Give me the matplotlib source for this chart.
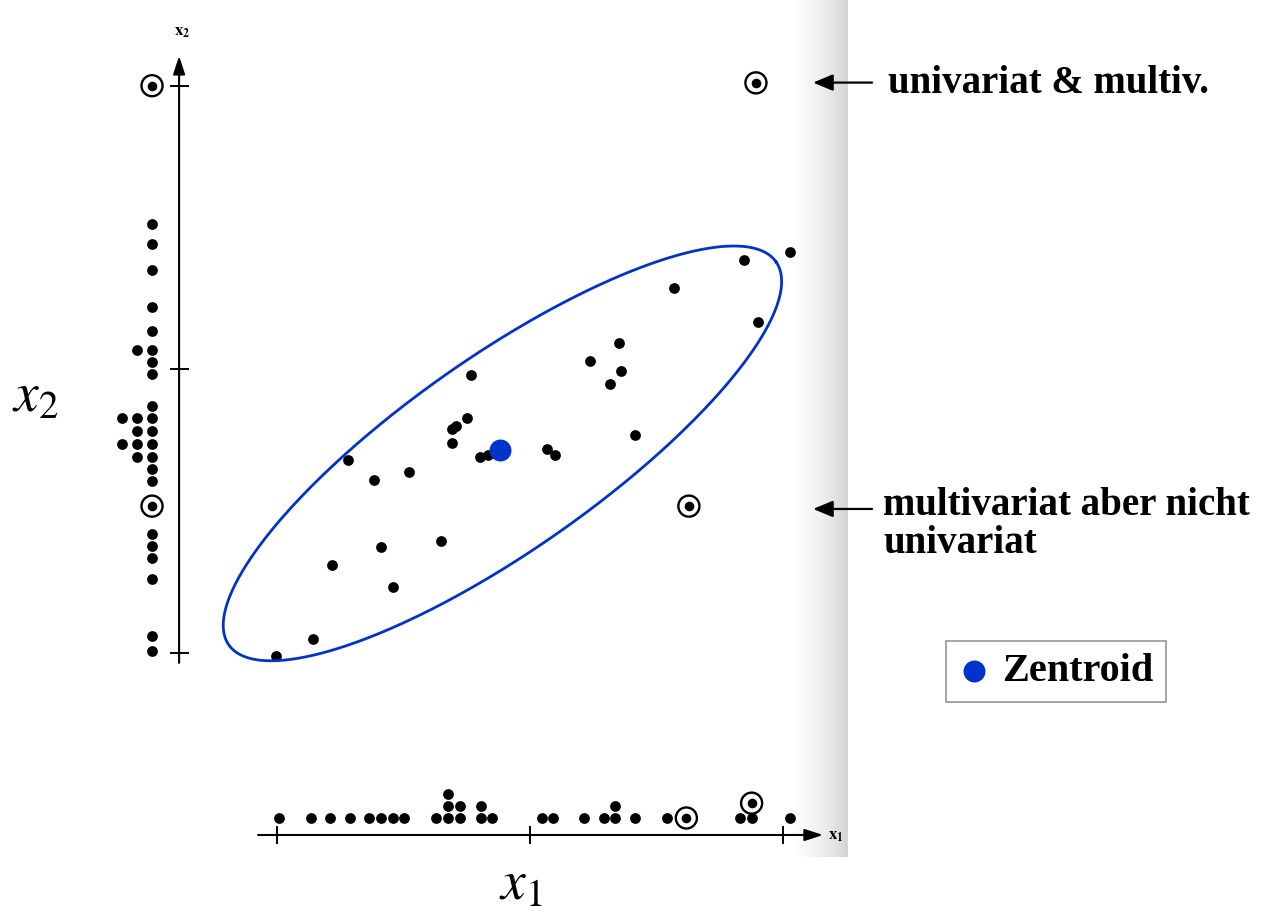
import matplotlib
matplotlib.use('Agg')
import matplotlib.pyplot as plt
import numpy as np
from collections import Counter

# ---------------- data (in x1 / x2 units, ticks at 0, 1, 2) ----------------
scatter_x1 = [-0.003, 0.144, 0.219, 0.281, 0.384, 0.413, 0.460, 0.522, 0.649,
              0.692, 0.692, 0.706, 0.749, 0.767, 0.803, 0.834, 1.067, 1.099,
              1.239, 1.315, 1.353, 1.360, 1.416, 1.570, 1.847, 1.900, 2.028]
scatter_x2 = [-0.012, 0.048, 0.309, 0.680, 0.609, 0.374, 0.232, 0.637, 0.394,
              0.741, 0.789, 0.800, 0.828, 0.980, 0.691, 0.697, 0.720, 0.698,
              1.029, 0.948, 1.092, 0.995, 0.769, 1.287, 1.386, 1.165, 1.412]
outlier_x1 = [1.628, 1.893]
outlier_x2 = [0.517, 2.010]
centroid_x1 = [0.883]
centroid_x2 = [0.715]

# ellipse: centre and two conjugate half-axis vectors
ellipse_center = (0.891, 0.703)
ellipse_u = (1.0814, 0.6757)
ellipse_v = (-0.2199, 0.2803)

# marginal dot plots (repeated values are stacked)
x1_margin = [0.009, 0.134, 0.209, 0.290, 0.365, 0.412, 0.459, 0.503, 0.628,
             0.676, 0.676, 0.676, 0.723, 0.723, 0.806, 0.806, 0.849, 1.046,
             1.092, 1.213, 1.292, 1.337, 1.337, 1.415, 1.540, 1.831, 1.876, 2.028]
x1_margin_outliers = [1.618, 1.876]
x2_margin = [1.511, 1.441, 1.350, 1.218, 1.135, 1.068, 1.068, 1.024, 0.982,
             0.871, 0.828, 0.828, 0.828, 0.782, 0.782, 0.736, 0.736, 0.736,
             0.690, 0.690, 0.648, 0.606, 0.419, 0.376, 0.334, 0.260, 0.059, 0.006]
x2_margin_outliers = [0.517, 2.000]
tick_values = [0, 1, 2]

label_top = "univariat & multiv."
label_mid = ["multivariat aber nicht", "univariat"]
legend_label = "Zentroid"

# ---------------- figure ----------------
W, H = 1274, 914
fig = plt.figure(figsize=(W / 100, H / 100), dpi=100)
ax = fig.add_axes([0, 0, 1, 1])
ax.set_axis_off()
XL = (-1.0949, 3.9407)
YL = (-0.9217, 2.3023)

plt.rcParams['mathtext.fontset'] = 'stix'
BLUE = '#0033cc'
serif = ['Liberation Serif', 'DejaVu Serif']

# gutter shadow of the scanned page
n = 200
ramp = np.linspace(0, 1, n)
rgba = np.zeros((1, n, 4))
rgba[..., :3] = 0.35
rgba[..., 3] = 0.26 * ramp ** 1.6
ax.imshow(rgba, extent=[2.02, 2.257, -0.7206, 2.3023], aspect='auto',
          interpolation='bilinear', zorder=0)


def stack_levels(values):
    seen = Counter()
    lv = []
    for v in values:
        lv.append(seen[v])
        seen[v] += 1
    return np.array(lv)


DOT_S = 60
IN_S = 48
RING_S = 230
RING_LW = 1.7


def ringed(x, y):
    ax.scatter(x, y, s=IN_S, color='black', lw=0, zorder=3)
    ax.scatter(x, y, s=RING_S, facecolors='none', edgecolors='black',
               linewidths=RING_LW, zorder=3)


# axes of the original figure
yaxis_x = -0.387
xaxis_y = -0.643
ax.annotate('', xy=(yaxis_x, 2.105), xytext=(yaxis_x, -0.036),
            arrowprops=dict(arrowstyle='-|>,head_length=0.55,head_width=0.18',
                            mutation_scale=20, lw=1.5, color='black',
                            shrinkA=0, shrinkB=0), zorder=2)
ax.annotate('', xy=(2.158, xaxis_y), xytext=(-0.075, xaxis_y),
            arrowprops=dict(arrowstyle='-|>,head_length=0.55,head_width=0.18',
                            mutation_scale=20, lw=1.5, color='black',
                            shrinkA=0, shrinkB=0), zorder=2)
tx = 8.5 / 253
ty = 8.0 / 283.5
for t in tick_values:
    ax.plot([t, t], [xaxis_y - ty, xaxis_y + ty], color='black', lw=1.4, zorder=2)
    ax.plot([yaxis_x - tx, yaxis_x + tx], [t, t], color='black', lw=1.4, zorder=2)
ax.text(yaxis_x + 0.012, 2.16, r'$\mathbf{x_2}$', fontsize=12, ha='center',
        va='bottom')
ax.text(2.21, xaxis_y, r'$\mathbf{x_1}$', fontsize=12, ha='center', va='center')

# main scatter
ax.scatter(scatter_x1, scatter_x2, s=DOT_S, color='black', lw=0, zorder=3)
ringed(outlier_x1, outlier_x2)

# bottom marginal (x1)
base_y, step_y = -0.583, 0.0423
vals = list(x1_margin) + list(x1_margin_outliers)
lv = stack_levels(vals)
flags = np.array([False] * len(x1_margin) + [True] * len(x1_margin_outliers))
yy = base_y + lv * step_y
yy[flags & (lv > 0)] += 0.01
va_ = np.array(vals)
ax.scatter(va_[~flags], yy[~flags], s=DOT_S, color='black', lw=0, zorder=3)
ringed(va_[flags], yy[flags])

# left marginal (x2)
base_x, step_x = -0.494, 0.0585
vals2 = list(x2_margin) + list(x2_margin_outliers)
lv2 = stack_levels(vals2)
flags2 = np.array([False] * len(x2_margin) + [True] * len(x2_margin_outliers))
xx = base_x - lv2 * step_x
vb_ = np.array(vals2)
ax.scatter(xx[~flags2], vb_[~flags2], s=DOT_S, color='black', lw=0, zorder=3)
ringed(xx[flags2], vb_[flags2])

# ellipse
t = np.linspace(0, 2 * np.pi, 500)
ex = ellipse_center[0] + np.cos(t) * ellipse_u[0] + np.sin(t) * ellipse_v[0]
ey = ellipse_center[1] + np.cos(t) * ellipse_u[1] + np.sin(t) * ellipse_v[1]
ax.plot(ex, ey, color=BLUE, lw=2.0, zorder=4)

# centroid
ax.scatter(centroid_x1, centroid_x2, s=250, color=BLUE, lw=0, zorder=5,
           label=legend_label)

# annotations
arrow_kw = dict(arrowstyle='-|>,head_length=0.6,head_width=0.25',
                mutation_scale=20, lw=1.6, color='black', shrinkA=0, shrinkB=0)
ax.annotate('', xy=(2.119, 2.011), xytext=(2.352, 2.011), arrowprops=arrow_kw)
ax.annotate('', xy=(2.119, 0.507), xytext=(2.352, 0.507), arrowprops=arrow_kw)
ax.text(2.415, 1.975, label_top, fontsize=28, fontweight='bold',
        family=serif, ha='left', va='baseline')
ax.text(2.395, 0.486, label_mid[0], fontsize=28, fontweight='bold',
        family=serif, ha='left', va='baseline')
ax.text(2.395, 0.352, label_mid[1], fontsize=28, fontweight='bold',
        family=serif, ha='left', va='baseline')

# axis labels
ax.text(-0.955, 0.905, r'$x_2$', fontsize=40, ha='center', va='center')
ax.text(0.962, -0.912, r'$x_1$', fontsize=40, ha='center', va='bottom')

leg = ax.legend(loc='center', bbox_to_anchor=(0.8289, 0.2653),
                bbox_transform=fig.transFigure, frameon=True, fancybox=False,
                framealpha=1, edgecolor='#8c8c8c', handlelength=0.8,
                handletextpad=0.3, borderpad=0.3, borderaxespad=0,
                prop=dict(family=serif, weight='bold', size=29))
leg.get_frame().set_linewidth(1.1)

ax.set_xlim(*XL)
ax.set_ylim(*YL)
fig.savefig('out.png', dpi=100)
